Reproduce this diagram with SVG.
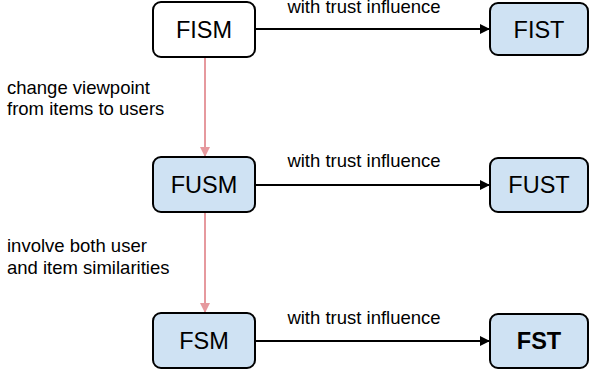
<svg xmlns="http://www.w3.org/2000/svg" width="590" height="378" viewBox="0 0 590 378">
  <style>
    .box { fill: #cfe2f3; stroke: #000; stroke-width: 2; }
    .box.plain { fill: #fff; }
    .name { font-family: "Liberation Sans", Arial, sans-serif; font-size: 23.5px; text-anchor: middle; fill: #000; }
    .bold { font-weight: bold; }
    .label { font-family: "Liberation Sans", Arial, sans-serif; font-size: 18.5px; fill: #000; }
    .flow { stroke: #000; stroke-width: 2; fill: none; marker-end: url(#arrowBlack); }
    .derive { stroke: #e6999e; stroke-width: 2; fill: none; marker-end: url(#arrowPink); }
  </style>
  <defs>
    <marker id="arrowBlack" viewBox="0 0 10 10" refX="9" refY="5" markerWidth="5.5" markerHeight="5" orient="auto" markerUnits="strokeWidth">
      <path d="M0,0 L10,5 L0,10 z" fill="#000"/>
    </marker>
    <marker id="arrowPink" viewBox="0 0 10 10" refX="9" refY="5" markerWidth="5.5" markerHeight="5" orient="auto" markerUnits="strokeWidth">
      <path d="M0,0 L10,5 L0,10 z" fill="#e6999e"/>
    </marker>
  </defs>

  <rect width="590" height="378" fill="#fff"/>

  <g id="connectors">
    <line class="flow" x1="256" y1="29" x2="489" y2="29"/>
    <line class="flow" x1="256" y1="185" x2="489" y2="185"/>
    <line class="flow" x1="256" y1="341" x2="489" y2="341"/>
    <line class="derive" x1="205" y1="58" x2="205" y2="156"/>
    <line class="derive" x1="205" y1="213" x2="205" y2="312"/>
    <text class="label" x="364" y="13" text-anchor="middle">with trust influence</text>
    <text class="label" x="364" y="167" text-anchor="middle">with trust influence</text>
    <text class="label" x="364" y="324" text-anchor="middle">with trust influence</text>
    <text class="label" x="7" y="94">change viewpoint</text>
    <text class="label" x="7" y="115">from items to users</text>
    <text class="label" x="7" y="252">involve both user</text>
    <text class="label" x="7" y="274">and item similarities</text>
  </g>

  <g id="FISM">
    <rect class="box plain" x="153" y="2" width="102" height="55" rx="8"/>
    <text class="name" x="204" y="38">FISM</text>
  </g>
  <g id="FIST">
    <rect class="box" x="490" y="3" width="98" height="52" rx="8"/>
    <text class="name" x="539" y="38">FIST</text>
  </g>
  <g id="FUSM">
    <rect class="box" x="153" y="157" width="102" height="55" rx="8"/>
    <text class="name" x="204" y="193">FUSM</text>
  </g>
  <g id="FUST">
    <rect class="box" x="490" y="158" width="98" height="54" rx="8"/>
    <text class="name" x="539" y="193">FUST</text>
  </g>
  <g id="FSM">
    <rect class="box" x="153" y="313" width="102" height="55" rx="8"/>
    <text class="name" x="204" y="349">FSM</text>
  </g>
  <g id="FST">
    <rect class="box" x="490" y="314" width="98" height="54" rx="8"/>
    <text class="name bold" x="539" y="349">FST</text>
  </g>
</svg>
